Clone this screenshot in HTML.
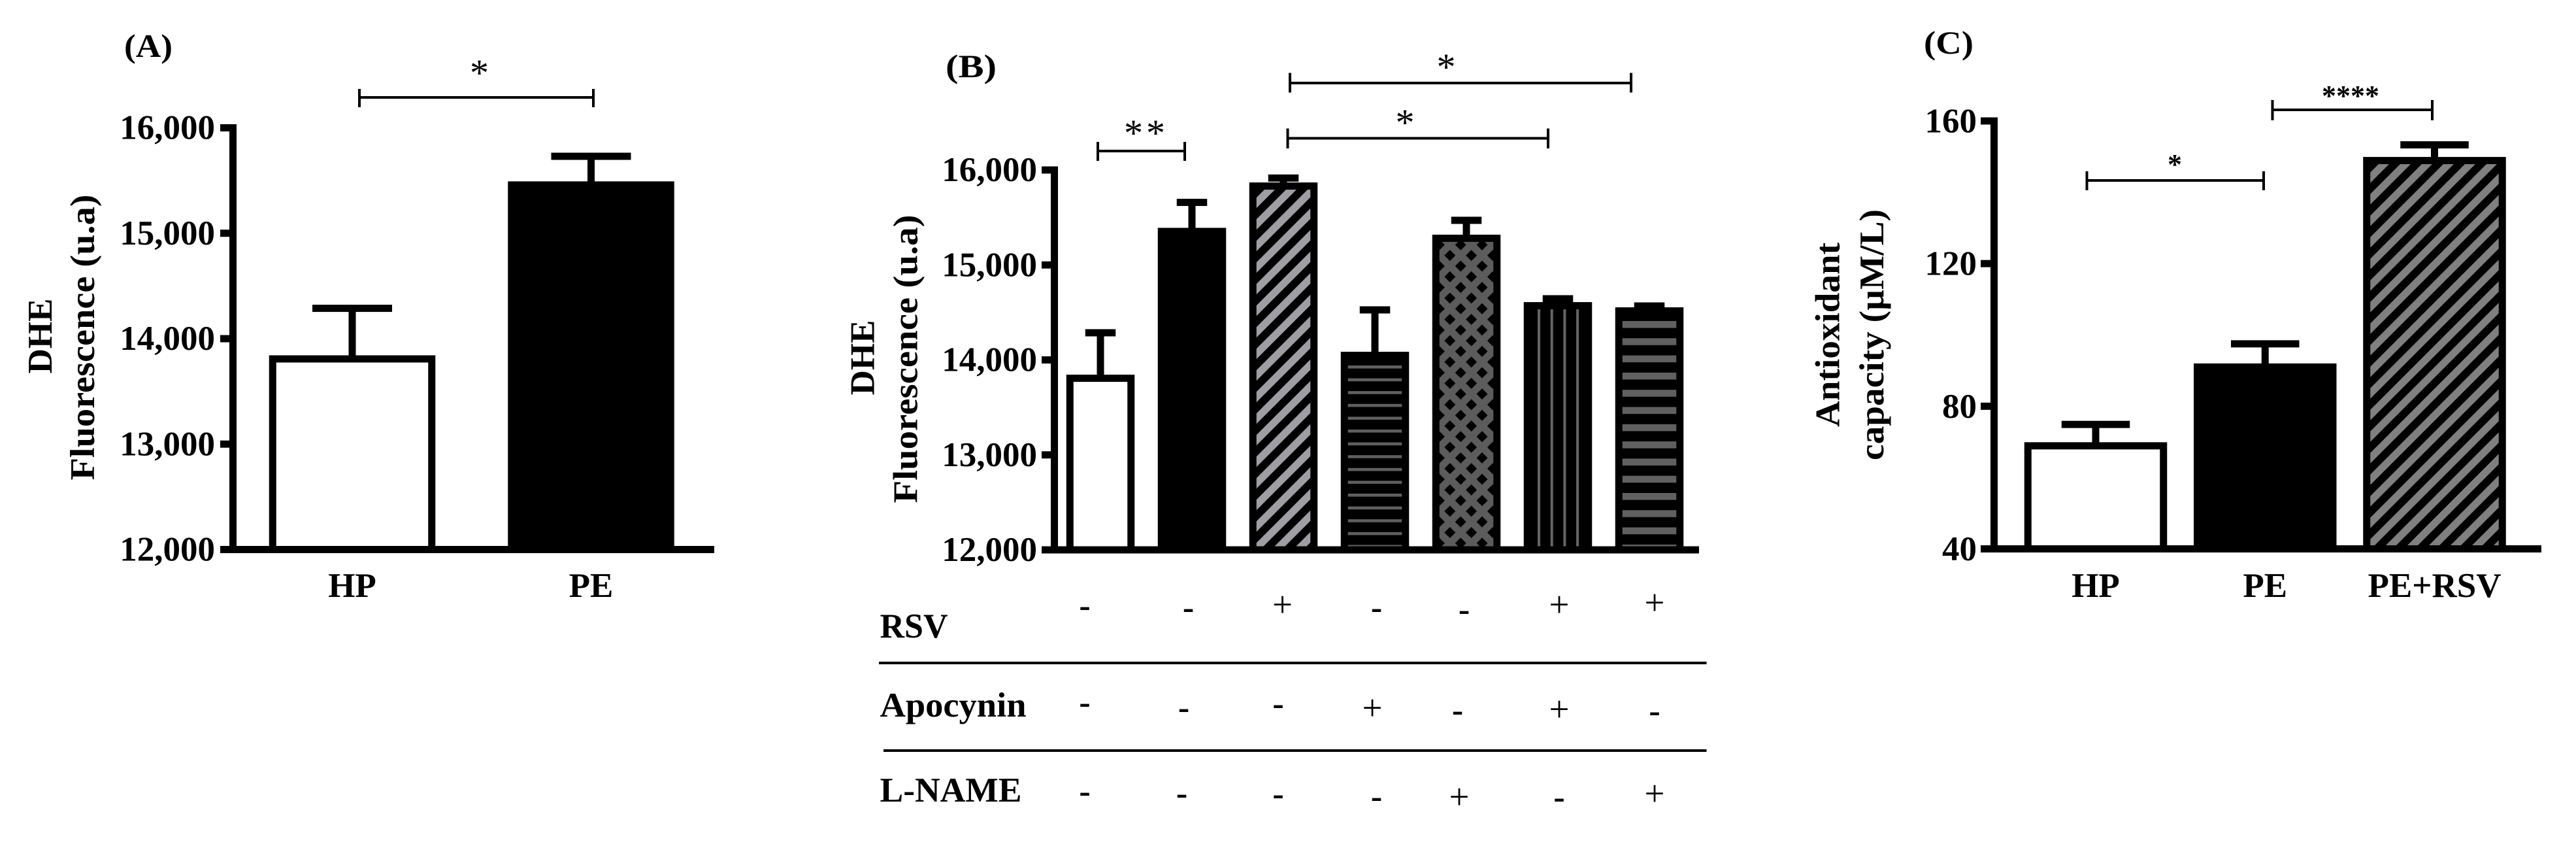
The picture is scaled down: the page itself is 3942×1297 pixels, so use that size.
<!DOCTYPE html>
<html lang="en">
<head>
<meta charset="utf-8">
<title>DHE fluorescence and antioxidant capacity bar charts</title>
<style>
  html, body { margin: 0; padding: 0; background: #fff; }
  svg { display: block; }
  text { font-family: "Liberation Serif", "Times New Roman", serif; fill: #000; }
  .b { font-weight: bold; }
  .lab { font-size: 53px; font-weight: bold; }
  .minus { font-size: 52px; font-weight: bold; text-anchor: middle; }
  .plus { font-size: 55px; text-anchor: middle; }
  .br { stroke: #000; stroke-width: 4; fill: none; }
</style>
</head>
<body>
<svg id="fig" xmlns="http://www.w3.org/2000/svg" width="3942" height="1297" viewBox="0 0 3942 1297">
  <defs>
    <pattern id="p-stripe-light" patternUnits="userSpaceOnUse" width="33" height="33">
      <rect width="33" height="33" fill="#000"/>
      <polygon points="14,0 30,0 0,30 0,14" fill="#9f9fa3"/>
      <polygon points="33,14 33,30 30,33 14,33" fill="#9f9fa3"/>
    </pattern>
    <pattern id="p-stripe-mid" patternUnits="userSpaceOnUse" width="33" height="33">
      <rect width="33" height="33" fill="#000"/>
      <polygon points="30,0 33,0 33,13 13,33 0,33 0,30" fill="#808080"/>
      <polygon points="0,0 13,0 0,13" fill="#808080"/>
      <polygon points="33,30 33,33 30,33" fill="#808080"/>
    </pattern>
    <pattern id="p-hline-thin" patternUnits="userSpaceOnUse" x="0" y="559" width="20" height="19.6">
      <rect width="20" height="19.6" fill="#000"/>
      <rect width="20" height="4.6" fill="#5f5f5f"/>
    </pattern>
    <pattern id="p-hline-thick" patternUnits="userSpaceOnUse" x="0" y="491" width="20" height="26.3">
      <rect width="20" height="26.3" fill="#000"/>
      <rect width="20" height="10.6" fill="#606060"/>
    </pattern>
    <pattern id="p-vline" patternUnits="userSpaceOnUse" x="2353" y="0" width="19.7" height="20">
      <rect width="19.7" height="20" fill="#000"/>
      <rect width="4" height="20" fill="#666"/>
    </pattern>
    <pattern id="p-lattice" patternUnits="userSpaceOnUse" x="2218.8" y="390.7" width="32.8" height="32.6">
      <rect width="32.8" height="32.6" fill="#5c5c5c"/>
      <polygon points="0,-8.5 8.5,0 0,8.5 -8.5,0" fill="#000"/>
      <polygon points="32.8,-8.5 41.3,0 32.8,8.5 24.3,0" fill="#000"/>
      <polygon points="0,24.1 8.5,32.6 0,41.1 -8.5,32.6" fill="#000"/>
      <polygon points="32.8,24.1 41.3,32.6 32.8,41.1 24.3,32.6" fill="#000"/>
      <polygon points="16.4,7.8 24.9,16.3 16.4,24.8 7.9,16.3" fill="#000"/>
    </pattern>
  </defs>

  <!-- Panel A annotations -->
  <g>
    <text class="b" x="190" y="87" font-size="50" textLength="74" lengthAdjust="spacingAndGlyphs">(A)</text>
    <text class="lab" transform="translate(79,514) rotate(-90)" text-anchor="middle">DHE</text>
    <text class="lab" transform="translate(144,516) rotate(-90)" text-anchor="middle" textLength="437" lengthAdjust="spacingAndGlyphs">Fluorescence (u.a)</text>
    <path class="br" d="M550 136V164M550 149H908M908 136V164"/>
    <text x="733.5" y="131" font-size="58" text-anchor="middle">*</text>
  </g>

  <!-- Panel B annotations -->
  <g>
    <text class="b" x="1447" y="118" font-size="50" textLength="78" lengthAdjust="spacingAndGlyphs">(B)</text>
    <text class="lab" transform="translate(1337.5,547) rotate(-90)" text-anchor="middle">DHE</text>
    <text class="lab" transform="translate(1403.5,549) rotate(-90)" text-anchor="middle" textLength="441" lengthAdjust="spacingAndGlyphs">Fluorescence (u.a)</text>
    <path class="br" d="M1680 217V246M1680 231H1813M1813 217V246"/>
    <text x="1734.5" y="223" font-size="58" text-anchor="middle">*</text>
    <text x="1768.5" y="223" font-size="58" text-anchor="middle">*</text>
    <path class="br" d="M1974 111.5V141.5M1974 127H2496M2496 111.5V141.5"/>
    <text x="2213" y="122" font-size="58" text-anchor="middle">*</text>
    <path class="br" d="M1970.5 196.5V227M1970.5 211.5H2369M2369 196.5V227"/>
    <text x="2150" y="207" font-size="58" text-anchor="middle">*</text>
  </g>

  <!-- Panel B treatment table -->
  <g>
    <text class="lab" x="1346.5" y="975" textLength="104" lengthAdjust="spacingAndGlyphs">RSV</text>
    <rect x="1345" y="1012" width="1266.5" height="4" fill="#000"/>
    <text class="lab" x="1346.5" y="1096" textLength="224" lengthAdjust="spacingAndGlyphs">Apocynin</text>
    <rect x="1352" y="1146" width="1259.5" height="4" fill="#000"/>
    <text class="lab" x="1346.5" y="1226" textLength="217" lengthAdjust="spacingAndGlyphs">L-NAME</text>

    <g>
      <text class="minus" x="1660" y="943">-</text>
      <text class="minus" x="1818.5" y="946">-</text>
      <text class="plus" x="1962.5" y="943">+</text>
      <text class="minus" x="2106.5" y="946">-</text>
      <text class="minus" x="2240.5" y="949">-</text>
      <text class="plus" x="2386" y="943">+</text>
      <text class="plus" x="2532" y="940">+</text>
    </g>
    <g>
      <text class="minus" x="1660" y="1091">-</text>
      <text class="minus" x="1811.5" y="1099">-</text>
      <text class="minus" x="1956" y="1093">-</text>
      <text class="plus" x="2100" y="1101">+</text>
      <text class="minus" x="2230.5" y="1103">-</text>
      <text class="plus" x="2386" y="1103">+</text>
      <text class="minus" x="2532" y="1104">-</text>
    </g>
    <g>
      <text class="minus" x="1660" y="1227">-</text>
      <text class="minus" x="1808.5" y="1230">-</text>
      <text class="minus" x="1956" y="1231">-</text>
      <text class="minus" x="2106.5" y="1235">-</text>
      <text class="plus" x="2233" y="1237">+</text>
      <text class="minus" x="2386" y="1236">-</text>
      <text class="plus" x="2532" y="1232">+</text>
    </g>
  </g>

  <!-- Panel C annotations -->
  <g>
    <text class="b" x="2944" y="82" font-size="50" textLength="76" lengthAdjust="spacingAndGlyphs">(C)</text>
    <text class="lab" transform="translate(2814.5,512) rotate(-90)" text-anchor="middle" textLength="282" lengthAdjust="spacingAndGlyphs">Antioxidant</text>
    <text class="lab" transform="translate(2882,512) rotate(-90)" text-anchor="middle" textLength="384" lengthAdjust="spacingAndGlyphs">capacity (µM/L)</text>
    <path class="br" d="M3193.5 262V291M3193.5 276H3464M3464 262V291"/>
    <text class="b" x="3328" y="266" font-size="44" text-anchor="middle">*</text>
    <path class="br" d="M3477.5 153V184M3477.5 168H3722M3722 153V184"/>
    <text class="b" x="3597" y="161" font-size="44" text-anchor="middle">****</text>
  </g>

  <g id="charts"></g>
</svg>

<script>
// Panel A data
const aCategories = ['HP', 'PE'];
const aMeans = [13808, 15458];
const aUppers = [14288, 15730];
const aTicks = [12000, 13000, 14000, 15000, 16000];
const aFills = ['#fff', '#000'];

// Panel B data
const bMeans = [13807, 15353, 15831, 14048, 15281, 14571, 14516];
const bUppers = [14286, 15659, 15915, 14527, 15470, 14644, 14568];
const bTicks = [12000, 13000, 14000, 15000, 16000];
const bFills = ['#fff', '#000', 'url(#p-stripe-light)', 'url(#p-hline-thin)', 'url(#p-lattice)', 'url(#p-vline)', 'url(#p-hline-thick)'];

// Panel C data
const cCategories = ['HP', 'PE', 'PE+RSV'];
const cMeans = [68.9, 91, 148.9];
const cUppers = [74.9, 97.5, 153.3];
const cTicks = [40, 80, 120, 160];
const cFills = ['#fff', '#000', 'url(#p-stripe-mid)'];

const NS = 'http://www.w3.org/2000/svg';
const root = document.getElementById('charts');

function shape(parent, tag, attrs) {
  const el = document.createElementNS(NS, tag);
  for (const k in attrs) el.setAttribute(k, attrs[k]);
  parent.appendChild(el);
  return el;
}

function fmt(v, comma) {
  return comma ? v.toLocaleString('en-US') : String(v);
}

function drawChart(opt) {
  const g = shape(root, 'g', {});
  
  

  const minV = opt.ticks[0];
  const maxV = opt.ticks[opt.ticks.length - 1];
  const yScale = v => opt.y0 - (v - minV) * (opt.y0 - opt.y1) / (maxV - minV);
  const xScale = i => opt.x0 + opt.step * i;
  const sw = opt.stroke;

  opt.means.forEach((m, i) => {
    const cx = xScale(i);
    const top = yScale(m);
    const upper = yScale(opt.uppers[i]);

    const stem = shape(g, 'rect', { x: cx - sw / 2, y: upper, width: sw, height: top - upper, fill: '#000' });
    
    

    const cap = shape(g, 'rect', { x: cx - opt.capW / 2, y: upper - sw / 2, width: opt.capW, height: sw, fill: '#000' });
    
    

    const bar = shape(g, 'rect', {
      x: cx - opt.barW / 2 + sw / 2,
      y: top,
      width: opt.barW - sw,
      height: opt.y0 - top,
      fill: opt.fills[i],
      stroke: '#000',
      'stroke-width': sw
    });
    
    
  });

  const yAxis = shape(g, 'rect', { x: opt.axisX - sw / 2, y: opt.y1 - sw / 2, width: sw, height: opt.y0 - opt.y1 + sw, fill: '#000' });
  
  

  const xAxis = shape(g, 'rect', { x: opt.axisX - sw / 2, y: opt.y0 - sw / 2, width: opt.xEnd - opt.axisX + sw / 2, height: sw, fill: '#000' });
  
  

  opt.ticks.forEach(t => {
    const y = yScale(t);

    const tick = shape(g, 'rect', { x: opt.tickX, y: y - sw / 2, width: opt.axisX - opt.tickX, height: sw, fill: '#000' });
    
    

    const label = shape(g, 'text', { x: opt.labelX, y: y + opt.labelDy, 'text-anchor': 'end', 'font-size': 53, 'font-weight': 'bold' });
    label.textContent = fmt(t, opt.comma);
    
    
  });

  (opt.categories || []).forEach((c, i) => {
    const label = shape(g, 'text', { x: xScale(i), y: opt.catY, 'text-anchor': 'middle', 'font-size': 53, 'font-weight': 'bold' });
    label.textContent = c;
    
    
  });
}

drawChart({
  id: 'panel-a', means: aMeans, uppers: aUppers, ticks: aTicks, fills: aFills, categories: aCategories,
  x0: 539, step: 365.5, barW: 254.5, capW: 122, stroke: 11,
  axisX: 356.5, tickX: 337, xEnd: 1093, y0: 840.5, y1: 195.5,
  labelX: 329, labelDy: 17, catY: 913, comma: true
});

drawChart({
  id: 'panel-b', means: bMeans, uppers: bUppers, ticks: bTicks, fills: bFills,
  x0: 1684, step: 140, barW: 104.5, capW: 46.5, stroke: 11,
  axisX: 1613.5, tickX: 1594, xEnd: 2600, y0: 841, y1: 260,
  labelX: 1587, labelDy: 17, comma: true
});

drawChart({
  id: 'panel-c', means: cMeans, uppers: cUppers, ticks: cTicks, fills: cFills, categories: cCategories,
  x0: 3207, step: 259.25, barW: 218.5, capW: 104.5, stroke: 11,
  axisX: 3051.5, tickX: 3031, xEnd: 3889, y0: 839.5, y1: 185,
  labelX: 3025, labelDy: 17.5, catY: 913, comma: false
});
</script>
</body>
</html>
